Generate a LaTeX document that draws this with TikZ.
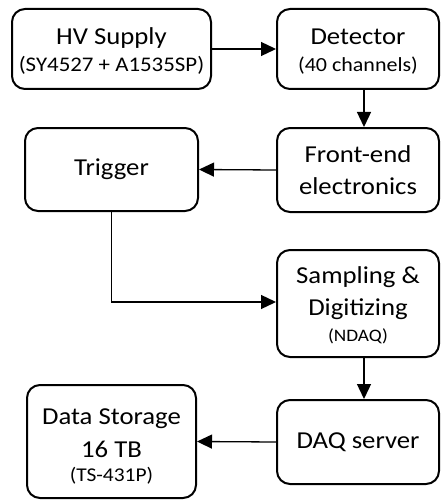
\documentclass[tikz,border=0pt]{standalone}
\usepackage{fontspec}
\setmainfont[FakeStretch=1.1]{Carlito}
\usetikzlibrary{arrows.meta,calc}
\newcommand{\subtxt}[2]{{\fontsize{#1}{#1}\selectfont #2}}
\begin{document}
\begin{tikzpicture}[x=1pt,y=-1pt,
  box/.style={draw=black,line width=2pt,rounded corners=13pt,fill=white,
    align=center,inner sep=0pt,text=black},
  conn/.style={line width=1.3pt,-{Triangle[length=15pt,width=14pt]}},
  two/.style={font=\fontsize{24.3}{27}\selectfont},
  three/.style={font=\fontsize{24.3}{32.5}\selectfont}]
\useasboundingbox (0,0) rectangle (440,500);
\node[box,two,minimum width=199pt,minimum height=80pt] (hv) at (111.5,49)
  {\rule{0pt}{20pt}HV Supply\\\subtxt{20.8}{(SY4527 + A1535SP)}};
\node[box,two,minimum width=162pt,minimum height=80pt] (det) at (358,49)
  {\rule{0pt}{20pt}Detector\\\subtxt{20}{(40 channels)}};
\node[box,two,minimum width=173pt,minimum height=83pt] (trig) at (111.5,169.5)
  {Trigger};
\node[box,three,minimum width=162pt,minimum height=84pt] (fe) at (358,170)
  {Front-end\\electronics};
\node[box,three,minimum width=162pt,minimum height=107pt] (samp) at (358,303.5)
  {\rule{0pt}{20pt}Sampling \&\\Digitizing\\[-7pt]\subtxt{17.5}{(NDAQ)}};
\node[box,three,minimum width=169pt,minimum height=113pt] (sto) at (111.5,441.5)
  {\rule{0pt}{26pt}Data Storage\\16 TB\\[-8pt]\subtxt{19.5}{(TS-431P)}};
\node[box,two,minimum width=162pt,minimum height=84pt] (daq) at (358,442)
  {DAQ server};
\draw[conn] (hv.east) -- (det.west);
\draw[conn] ([xshift=6pt]det.south) -- ([xshift=6pt]fe.north);
\draw[conn] (fe.west) -- (trig.east);
\draw[conn] (trig.south) |- ([yshift=1.5pt]samp.west);
\draw[conn] ([xshift=6pt]samp.south) -- ([xshift=6pt]daq.north);
\draw[conn] (daq.west) -- (sto.east);
\end{tikzpicture}
\end{document}
